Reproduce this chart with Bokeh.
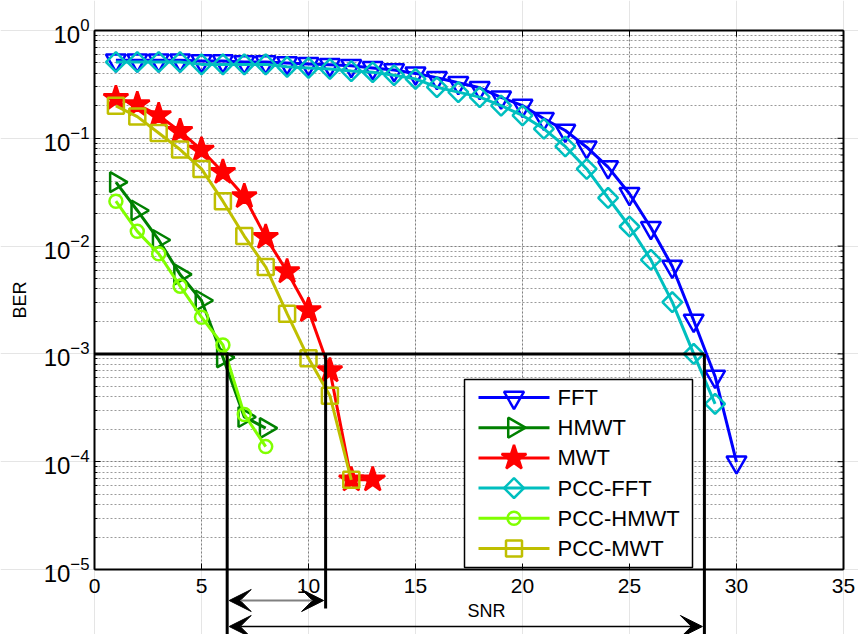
import math
from bokeh.plotting import figure
from bokeh.models import (ColumnDataSource, LogAxis, LinearAxis, FixedTicker, Grid,
                          Arrow, VeeHead, Label)
from bokeh.core.properties import value
from bokeh.embed import file_html
from bokeh.resources import INLINE

# ---------------- data ----------------
snr_fft = list(range(1, 31))
ber_fft = [0.53, 0.53, 0.53, 0.53, 0.52, 0.52, 0.51, 0.51, 0.50, 0.49,
           0.48, 0.47, 0.45, 0.43, 0.40, 0.364, 0.327, 0.294, 0.240, 0.201,
           0.152, 0.118, 0.0827, 0.054, 0.0306, 0.0148, 0.00647, 0.00204, 0.000617, 0.000099]

snr_pcc_fft = list(range(1, 30))
ber_pcc_fft = [0.51, 0.51, 0.51, 0.51, 0.485, 0.485, 0.485, 0.485, 0.46, 0.45,
               0.44, 0.42, 0.41, 0.385, 0.356, 0.298, 0.268, 0.241, 0.201, 0.163,
               0.1225, 0.084, 0.052, 0.028, 0.0152, 0.00746, 0.00302, 0.00100, 0.000344]

snr_hmwt = list(range(1, 9))
ber_hmwt = [0.0392, 0.0214, 0.0114, 0.00546, 0.00313, 0.00093, 0.00026, 0.000205]

snr_mwt = list(range(1, 14))
ber_mwt = [0.235, 0.206, 0.163, 0.116, 0.078, 0.0485, 0.0289, 0.0121, 0.0058, 0.00253,
           0.00070, 0.000068, 0.000068]

snr_pcc_hmwt = list(range(1, 9))
ber_pcc_hmwt = [0.0261, 0.0137, 0.0085, 0.00425, 0.00219, 0.00121, 0.000274, 0.000138]

snr_pcc_mwt = list(range(1, 13))
ber_pcc_mwt = [0.20, 0.159, 0.112, 0.0787, 0.052, 0.0261, 0.0124, 0.0064, 0.00236, 0.00091,
               0.00041, 0.000068]

series_names = ["FFT", "HMWT", "MWT", "PCC-FFT", "PCC-HMWT", "PCC-MWT"]

threshold_ber = 1e-3
crossing_snr = [6.2, 10.8, 28.5]
x_ticks = [0, 5, 10, 15, 20, 25, 30, 35]
y_major = [1e-5, 1e-4, 1e-3, 1e-2, 1e-1, 1.0]
y_minor = [k * 10.0 ** n for n in range(-5, 0) for k in range(2, 10)]
X_MIN, X_MAX = 0, 35
Y_MIN, Y_MAX = 1e-5, 1.0

# ---------------- geometry (canvas pixels -> data) ----------------
W, H = 858, 634
FRAME_LEFT, FRAME_TOP = 94, 30
PX_PER_X = 749 / 35.0
PX_PER_DEC = 539 / 5.0


def dx(px):
    return (px - FRAME_LEFT) / PX_PER_X


def dy(py):
    return 10 ** (-(py - FRAME_TOP) / PX_PER_DEC)


FONT = "Liberation Sans"

p = figure(width=W, height=H, x_range=(dx(0), dx(W)), y_range=(dy(H), dy(0)),
           y_axis_type="log", x_axis_location=None, y_axis_location=None,
           output_backend="svg", toolbar_location=None, min_border=0)
p.background_fill_color = "white"
p.border_fill_color = "white"
p.outline_line_color = None

# ---------------- grid ----------------
GRID_COLOR = "#808080"
has_cross = "cross_bounds" in Grid.properties()
if has_cross:
    xg = Grid(dimension=0, ticker=FixedTicker(ticks=x_ticks[1:-1]), cross_bounds=(Y_MIN, Y_MAX),
              grid_line_color=GRID_COLOR, grid_line_dash="2 2", grid_line_width=1)
    yg = Grid(dimension=1, ticker=FixedTicker(ticks=y_major[1:-1], minor_ticks=y_minor),
              cross_bounds=(X_MIN, X_MAX),
              grid_line_color=GRID_COLOR, grid_line_dash="2 2", grid_line_width=1,
              minor_grid_line_color="#9a9a9a", minor_grid_line_dash="2 2", minor_grid_line_width=1)
    p.add_layout(xg)
    p.add_layout(yg)
else:
    gx = x_ticks[1:-1]
    p.segment(x0=gx, y0=[Y_MIN] * len(gx), x1=gx, y1=[Y_MAX] * len(gx), line_color=GRID_COLOR,
              line_dash="2 2", line_width=1, level="underlay")
    gy = y_major[1:-1] + y_minor
    p.segment(x0=[X_MIN] * len(gy), y0=gy, x1=[X_MAX] * len(gy), y1=gy, line_color=GRID_COLOR,
              line_dash="2 2", line_width=1, level="underlay")

# ---------------- axes ----------------
yax = LogAxis(fixed_location=X_MIN, bounds=(Y_MIN, Y_MAX),
              ticker=FixedTicker(ticks=y_major, minor_ticks=y_minor),
              axis_label="BER", axis_label_standoff=11,
              axis_label_text_font=FONT, axis_label_text_font_size="18px",
              axis_label_text_font_style="normal", axis_label_text_color="black",
              major_label_text_font=FONT, major_label_text_font_size="24px",
              major_label_text_color="black", major_label_standoff=5,
              axis_line_color="black", axis_line_width=2,
              major_tick_in=6, major_tick_out=0, minor_tick_in=3, minor_tick_out=0,
              major_tick_line_color="black", minor_tick_line_color="black")
p.add_layout(yax, "left")

xax = LinearAxis(fixed_location=Y_MIN, bounds=(X_MIN, X_MAX),
                 ticker=FixedTicker(ticks=x_ticks),
                 major_label_text_font=FONT, major_label_text_font_size="21px",
                 major_label_text_color="black", major_label_standoff=9,
                 axis_line_color="black", axis_line_width=2,
                 major_tick_in=6, major_tick_out=0, minor_tick_in=0, minor_tick_out=0,
                 major_tick_line_color="black")
p.add_layout(xax, "below")

# box: top and right edges with inward ticks
p.segment(x0=[X_MIN, X_MAX], y0=[Y_MAX, Y_MIN], x1=[X_MAX, X_MAX], y1=[Y_MAX, Y_MAX],
          line_color="black", line_width=2)
tick_x = 6 / PX_PER_X
tick_xm = 3 / PX_PER_X
tick_yf = 10 ** (-6 / PX_PER_DEC)
p.segment(x0=[X_MAX] * len(y_major), y0=y_major, x1=[X_MAX - tick_x] * len(y_major), y1=y_major,
          line_color="black", line_width=1)
p.segment(x0=[X_MAX] * len(y_minor), y0=y_minor, x1=[X_MAX - tick_xm] * len(y_minor), y1=y_minor,
          line_color="black", line_width=1)
p.segment(x0=x_ticks, y0=[Y_MAX] * len(x_ticks), x1=x_ticks, y1=[Y_MAX * tick_yf] * len(x_ticks),
          line_color="black", line_width=1)

# ---------------- series ----------------
styles = {
    "FFT": dict(color="#0000FF", marker="inverted_triangle", size=20, angle=0.0, fill=None),
    "HMWT": dict(color="#008000", marker="triangle", size=20, angle=-math.pi / 2, fill=None),
    "MWT": dict(color="#FF0000", marker="star", size=26, angle=0.0, fill="#FF0000"),
    "PCC-FFT": dict(color="#00BFBF", marker="square", size=14, angle=math.pi / 4, fill=None),
    "PCC-HMWT": dict(color="#80FF00", marker="circle", size=13, angle=0.0, fill=None),
    "PCC-MWT": dict(color="#BFBF00", marker="square", size=16, angle=0.0, fill=None),
}
series_data = {
    "FFT": (snr_fft, ber_fft),
    "HMWT": (snr_hmwt, ber_hmwt),
    "MWT": (snr_mwt, ber_mwt),
    "PCC-FFT": (snr_pcc_fft, ber_pcc_fft),
    "PCC-HMWT": (snr_pcc_hmwt, ber_pcc_hmwt),
    "PCC-MWT": (snr_pcc_mwt, ber_pcc_mwt),
}

for name in series_names:
    xs, ys = series_data[name]
    st = styles[name]
    src = ColumnDataSource(dict(x=xs, y=ys))
    p.line("x", "y", source=src, line_color=st["color"], line_width=3)
    p.scatter("x", "y", source=src, marker=st["marker"], size=st["size"], angle=st["angle"],
              line_color=st["color"], line_width=2.5, fill_color=st["fill"])

# ---------------- threshold lines ----------------
p.add_layout(Arrow(x_start=X_MIN, y_start=threshold_ber, x_end=crossing_snr[2], y_end=threshold_ber,
                   start=None, end=None, line_color="black", line_width=3))
line_ends = [dy(H + 20), dy(608), dy(H + 20)]
for xs_, ye in zip(crossing_snr, line_ends):
    p.add_layout(Arrow(x_start=xs_, y_start=threshold_ber, x_end=xs_, y_end=ye,
                       start=None, end=None, line_color="black", line_width=3))

gap = 2 / PX_PER_X


def head():
    return VeeHead(size=22, fill_color="black", line_color="black", line_width=1)


p.add_layout(Arrow(x_start=crossing_snr[0] + gap, y_start=dy(600),
                   x_end=crossing_snr[1] - gap, y_end=dy(600),
                   start=head(), end=head(), line_color="#808080", line_width=2))
p.add_layout(Arrow(x_start=crossing_snr[0] + gap, y_start=dy(626),
                   x_end=crossing_snr[2] - gap, y_end=dy(626),
                   start=head(), end=head(), line_color="black", line_width=1.5))
p.add_layout(Label(x=dx(486), y=dy(610), text="SNR", text_align="center", text_baseline="middle",
                   text_font=FONT, text_font_size="18px", text_color="black"))

# ---------------- legend (drawn in the frame) ----------------
LG_L, LG_R, LG_T, LG_B = 464, 692, 379, 567
p.quad(left=[dx(LG_L)], right=[dx(LG_R)], top=[dy(LG_T)], bottom=[dy(LG_B)],
       fill_color="white", line_color="black", line_width=1.5)
for i, name in enumerate(series_names):
    st = styles[name]
    py = 397 + 30.2 * i
    p.segment(x0=[dx(478)], y0=[dy(py)], x1=[dx(549)], y1=[dy(py)],
              line_color=st["color"], line_width=3)
    p.scatter(x=[dx(513.5)], y=[dy(py)], marker=st["marker"], size=st["size"], angle=st["angle"],
              line_color=st["color"], line_width=2.5, fill_color=st["fill"])
    p.text(x=[dx(557)], y=[dy(py)], text=[name], text_font=value(FONT), text_font_size="22px",
           text_color="black", text_align="left", text_baseline="middle")

open("out.html", "w").write(file_html(p, INLINE))
